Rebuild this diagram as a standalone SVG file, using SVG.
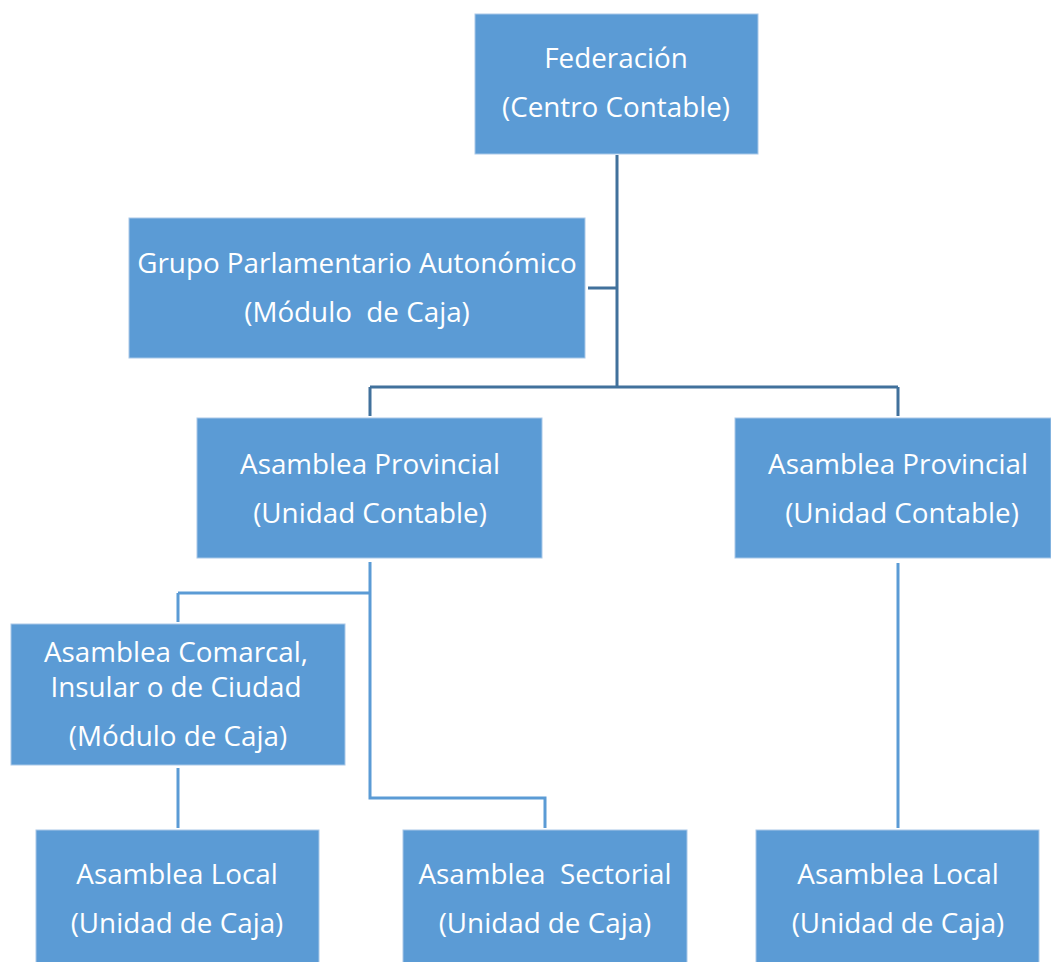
<svg xmlns="http://www.w3.org/2000/svg" width="1051" height="962" viewBox="0 0 1051 962">
<style>
.box{fill:#5B9BD5;stroke:#A9C8E8;stroke-width:1}
.t{font-family:"Open Sans","Noto Sans",sans-serif;font-size:27.8px;fill:#ffffff;text-anchor:middle}
.c1{fill:none;stroke:#41719C;stroke-width:3}
.c2{fill:none;stroke:#5B9BD5;stroke-width:3}
</style>
<rect width="1051" height="962" fill="#ffffff"/>
<g id="connectors">
<path class="c1" d="M617,155 V387 M588,288 H617 M370,387 H898 M370,387 V416 M898,387 V416"/>
<path class="c2" d="M370,562 V798 H545 V828 M178,593 H370 M178,593 V622 M178,768 V828 M898,563 V828"/>
</g>
<g id="federacion">
<rect class="box" x="475" y="14" width="283" height="140"/>
<text class="t" x="616" y="68">Federación</text>
<text class="t" x="616" y="117">(Centro Contable)</text>
</g>
<g id="grupo">
<rect class="box" x="129" y="218" width="456" height="140"/>
<text class="t" x="357" y="273">Grupo Parlamentario Autonómico</text>
<text class="t" x="357" y="322" xml:space="preserve">(Módulo  de Caja)</text>
</g>
<g id="ap-left">
<rect class="box" x="197" y="418" width="345" height="140"/>
<text class="t" x="370" y="474">Asamblea Provincial</text>
<text class="t" x="370" y="523">(Unidad Contable)</text>
</g>
<g id="ap-right">
<rect class="box" x="735" y="418" width="316" height="140"/>
<text class="t" x="898" y="474">Asamblea Provincial</text>
<text class="t" x="902" y="523">(Unidad Contable)</text>
</g>
<g id="comarcal">
<rect class="box" x="11" y="624" width="334" height="141"/>
<text class="t" x="176" y="662">Asamblea Comarcal,</text>
<text class="t" x="176" y="697">Insular o de Ciudad</text>
<text class="t" x="178" y="746">(Módulo de Caja)</text>
</g>
<g id="local-left">
<rect class="box" x="36" y="830" width="283" height="133"/>
<text class="t" x="177" y="884">Asamblea Local</text>
<text class="t" x="177" y="933">(Unidad de Caja)</text>
</g>
<g id="sectorial">
<rect class="box" x="403" y="830" width="284" height="133"/>
<text class="t" x="545" y="884" xml:space="preserve">Asamblea  Sectorial</text>
<text class="t" x="545" y="933">(Unidad de Caja)</text>
</g>
<g id="local-right">
<rect class="box" x="756" y="830" width="283" height="133"/>
<text class="t" x="898" y="884">Asamblea Local</text>
<text class="t" x="898" y="933">(Unidad de Caja)</text>
</g>
</svg>
